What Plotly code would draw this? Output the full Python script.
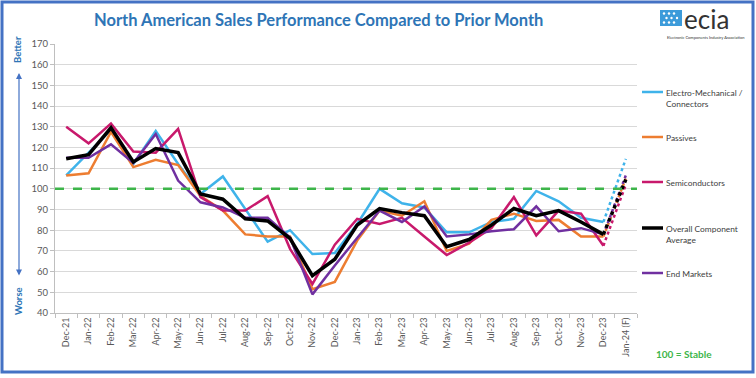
import plotly.graph_objects as go

months = ["Dec-21", "Jan-22", "Feb-22", "Mar-22", "Apr-22", "May-22", "Jun-22", "Jul-22",
          "Aug-22", "Sep-22", "Oct-22", "Nov-22", "Dec-22", "Jan-23", "Feb-23", "Mar-23",
          "Apr-23", "May-23", "Jun-23", "Jul-23", "Aug-23", "Sep-23", "Oct-23", "Nov-23",
          "Dec-23", "Jan-24 (F)"]

electro_mech = [106.5, 117.5, 128.5, 112, 128, 112, 97.5, 106, 90, 74.5, 80, 68.5, 69,
                83, 100, 93, 91, 79, 79, 84, 85.5, 99, 94, 86, 84, 114.5]
passives = [106.5, 107.5, 127.5, 110.5, 114, 111.5, 96.5, 89.5, 78, 77, 77, 51.5, 55,
            75, 89.5, 87, 94, 70, 73.5, 85, 88, 84.5, 85, 77, 77, 105]
semiconductors = [130, 122, 131.5, 118, 117.5, 129, 96, 89.5, 89.5, 96.5, 71, 54, 73,
                  85.5, 83, 86, 77, 68, 74, 81, 96, 77.5, 89.5, 88, 72.5, 102]
overall_avg = [114.5, 116.5, 129.5, 113, 119.5, 117.5, 97.5, 95, 85.5, 84.5, 76, 58, 66,
               82.5, 90.5, 88.5, 87, 72, 75.5, 82.5, 90.5, 87, 89.5, 84, 78, 104.5]
end_markets = [115, 115, 121.5, 112.5, 126.5, 104, 93.5, 91, 86, 86, 76.5, 49, 63,
               76, 89.5, 84, 91.5, 77, 78, 79.5, 80.5, 91.5, 79.5, 81, 78, 106.5]

series_names = ["Electro-Mechanical /<br>Connectors", "Passives", "Semiconductors",
                "Overall Component<br>Average", "End Markets"]
series_values = [electro_mech, passives, semiconductors, overall_avg, end_markets]
series_colors = ["#3FB3EA", "#ED7D31", "#C8196C", "#000000", "#7030A0"]
series_widths = [2.5, 2.5, 2.5, 3.5, 2.5]
legend_y_px = [92, 137, 182, 228, 273]

stable_level = 100
y_min, y_max = 40, 170

W, H = 756, 378
L, R, T, B = 55, 637, 44, 313


def px(x):
    return (x - L) / (R - L)


def py(y):
    return (B - y) / (B - T)


fig = go.Figure()

order = [0, 1, 2, 4, 3]
for i in order:
    vals = series_values[i]
    solid = vals[:-1] + [None]
    dotted = [None] * (len(vals) - 2) + vals[-2:]
    fig.add_trace(go.Scatter(x=months, y=solid, mode="lines",
                             line=dict(color=series_colors[i], width=series_widths[i]),
                             showlegend=False, hoverinfo="skip"))
    fig.add_trace(go.Scatter(x=months, y=dotted, mode="lines",
                             line=dict(color=series_colors[i], width=series_widths[i], dash="dot"),
                             showlegend=False, hoverinfo="skip"))

shapes = []
annotations = []

shapes.append(dict(type="line", xref="paper", yref="y", x0=0, x1=1, y0=stable_level, y1=stable_level,
                   line=dict(color="#3DB54A", width=2.5, dash="dash"), layer="above"))

for name, col, w, yy in zip(series_names, series_colors, series_widths, legend_y_px):
    shapes.append(dict(type="line", xref="paper", yref="paper", x0=px(642), x1=px(663),
                       y0=py(yy), y1=py(yy), line=dict(color=col, width=w)))
    annotations.append(dict(xref="paper", yref="paper", x=px(664), y=py(yy - 6.5), text=name,
                            showarrow=False, xanchor="left", yanchor="top", align="left",
                            font=dict(family="Lato", size=8.4, color="#404040")))

shapes.append(dict(type="rect", xref="paper", yref="paper", x0=px(2), x1=px(753), y0=py(2), y1=py(372),
                   line=dict(color="#4472C4", width=3), fillcolor="rgba(0,0,0,0)"))

# logo icon
shapes.append(dict(type="rect", xref="paper", yref="paper", x0=px(660), x1=px(682), y0=py(10), y1=py(26),
                   line=dict(width=0), fillcolor="#3C9BDA"))
for cx, cy in [(664, 13.5), (669, 13.5), (674, 13.5), (666.5, 18), (671.5, 18), (677, 18),
               (664, 22.5), (669, 22.5), (674, 22.5)]:
    shapes.append(dict(type="circle", xref="paper", yref="paper", x0=px(cx - 1.2), x1=px(cx + 1.2),
                       y0=py(cy - 1.2), y1=py(cy + 1.2), line=dict(width=0), fillcolor="white"))

annotations.append(dict(xref="paper", yref="paper", x=px(682), y=py(19), text="ecia", showarrow=False,
                        xanchor="left", yanchor="middle",
                        font=dict(family="Lato", size=26, color="#333333")))
annotations.append(dict(xref="paper", yref="paper", x=px(705), y=py(37),
                        text="Electronic Components Industry Association", showarrow=False,
                        xanchor="center", yanchor="middle",
                        font=dict(family="Lato", size=4, color="#333333")))

annotations.append(dict(xref="paper", yref="paper", x=px(318), y=py(20),
                        text="<b>North American Sales Performance Compared to Prior Month</b>",
                        showarrow=False, xanchor="center", yanchor="middle",
                        font=dict(family="Lato", size=16.5, color="#2E75B6")))

annotations.append(dict(xref="paper", yref="paper", x=px(18), y=py(50), text="<b>Better</b>",
                        textangle=-90, showarrow=False, xanchor="center", yanchor="middle",
                        font=dict(family="Lato", size=9.5, color="#2E75B6")))
annotations.append(dict(xref="paper", yref="paper", x=px(18), y=py(301), text="<b>Worse</b>",
                        textangle=-90, showarrow=False, xanchor="center", yanchor="middle",
                        font=dict(family="Lato", size=9.5, color="#2E75B6")))
annotations.append(dict(xref="paper", yref="paper", x=px(19), y=py(73), ax=0, ay=204,
                        axref="pixel", ayref="pixel", text="", showarrow=True,
                        arrowside="end+start", arrowhead=2, arrowsize=1, arrowwidth=1.2,
                        arrowcolor="#4472C4"))

annotations.append(dict(xref="paper", yref="paper", x=px(684), y=py(354), text="<b>100 = Stable</b>",
                        showarrow=False, xanchor="center", yanchor="middle",
                        font=dict(family="Lato", size=10, color="#3DB54A")))

fig.update_layout(
    width=W, height=H,
    margin=dict(l=L, r=W - R, t=T, b=H - B, pad=0),
    paper_bgcolor="white", plot_bgcolor="white",
    shapes=shapes, annotations=annotations,
    font=dict(family="Lato", color="#595959"),
    xaxis=dict(type="category", range=[-0.5, len(months) - 0.5], tickangle=-90,
               tickson="boundaries", ticks="outside", ticklen=4, tickcolor="#BFBFBF",
               showgrid=False, showline=True, linecolor="#BFBFBF", linewidth=1,
               tickfont=dict(family="Lato", size=9, color="#595959"), fixedrange=True),
    yaxis=dict(range=[y_min, y_max], dtick=10, tick0=40, ticks="outside", ticklen=4,
               tickcolor="#BFBFBF", showgrid=True, gridcolor="#D9D9D9", gridwidth=1,
               showline=True, linecolor="#BFBFBF", linewidth=1, zeroline=False,
               tickfont=dict(family="Lato", size=9.5, color="#595959"), fixedrange=True),
)

fig.write_html("out.html", config={"displayModeBar": False},
               post_script="document.body.style.margin='0px';")
